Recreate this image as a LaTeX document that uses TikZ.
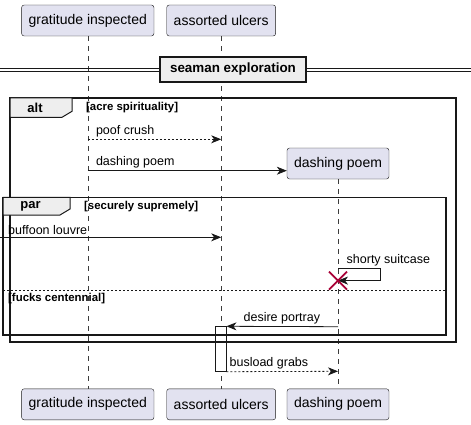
\documentclass[tikz,border=0pt]{standalone}
\usepackage{fontspec}
\setmainfont{Liberation Sans}
\usetikzlibrary{arrows.meta,positioning}
\definecolor{partfill}{HTML}{E2E2F0}
\definecolor{ink}{HTML}{181818}
\definecolor{grpfill}{HTML}{EEEEEE}
\definecolor{killred}{HTML}{A80036}
\begin{document}
\begin{tikzpicture}[x=1pt,y=-1pt,font=\fontsize{12.5}{15}\selectfont,
	part/.style={draw=ink,fill=partfill,rounded corners=2.5pt,minimum height=31pt,inner xsep=7pt,font=\fontsize{14}{16}\selectfont},
	life/.style={draw=ink!85,dash pattern=on 5pt off 5pt,line width=0.5pt},
	msg/.style={draw=ink,line width=0.8pt,-{Stealth[length=10pt,width=8pt,inset=3pt]}},
	reply/.style={msg,dash pattern=on 2pt off 2pt},
	lbl/.style={anchor=south west,inner sep=0pt,yshift=2.5pt},
	grp/.style={draw=ink,line width=1.6pt},
	guard/.style={anchor=west,inner sep=0pt,font=\fontsize{11.4}{13}\selectfont\bfseries}]
	\useasboundingbox (0,0) rectangle (471,425);
	% participants
	\node[part] (g) at (87.8,20.5) {gratitude inspected};
	\node[part] (a) at (221.2,20.5) {assorted ulcers};
	\node[part] (d) at (338,163.5) {dashing poem};
	\node[part] (gb) at (87.8,404.3) {gratitude inspected};
	\node[part] (ab) at (221.2,404.3) {assorted ulcers};
	\node[part] (db) at (338,404.3) {dashing poem};
	\foreach \u/\l in {g/gb,a/ab,d/db}{
		\draw[life] (\u.south) -- (\l.north);
	}
	% divider
	\draw[draw=ink,line width=0.8pt] (0,68.3) -- (471,68.3) (0,71.7) -- (471,71.7);
	\node[draw=ink,fill=grpfill,line width=1.5pt,minimum width=146pt,minimum height=25pt,inner sep=0pt,font=\fontsize{13.4}{15}\selectfont\bfseries] (sep) at (233,69.5) {seaman exploration};
	% activation
	\node[draw=ink,fill=white,line width=0.8pt,minimum width=10.7pt,minimum height=44.6pt,inner sep=0pt] (act) at (220.7,349) {};
	% groups
	\draw[grp] (10,98) rectangle (456,341.7);
	\draw[grp] (3,197.3) rectangle (445.7,335);
	\foreach \l/\t/\r/\b/\n in {10/98/72/117.3/alt, 3/197.3/70/215/par}{
		\draw[draw=ink,fill=grpfill,line width=1pt] (\l,\t) -- (\r,\t) -- (\r,\b-6) -- (\r-10,\b) -- (\l,\b) -- cycle;
		\node[font=\fontsize{13}{15}\selectfont\bfseries] (\n) at ({(\l+\r)/2-6},{(\t+\b)/2}) {\n};
	}
	\node[guard] (g1) at (86,108) {[acre spirituality]};
	\node[guard] (g2) at (84,207) {[securely supremely]};
	\draw[draw=ink,line width=0.8pt,dash pattern=on 2pt off 2pt] (3,290) -- (445.7,290);
	\node[guard] (g3) at (8,299) {[fucks centennial]};
	% messages
	\path (g |- 0,139.3) coordinate (m1s) (a |- 0,139.3) coordinate (m1e)
		(g |- 0,170.7) coordinate (m2s)
		(0,237.3) coordinate (m3s) (a |- 0,237.3) coordinate (m3e)
		(d |- 0,268.3) coordinate (m4s) (d |- 0,280.6) coordinate (m4e)
		(d |- 0,326.7) coordinate (m5s)
		(d |- 0,371.3) coordinate (m6e);
	\draw[reply] (m1s) -- (m1e);
	\node[lbl,xshift=8pt] at (m1s) {poof crush};
	\draw[msg] (m2s) -- (d.west |- m2s);
	\node[lbl,xshift=8pt] at (m2s) {dashing poem};
	\draw[msg] (m3s) -- (m3e);
	\node[lbl,xshift=8pt] at (m3s) {buffoon louvre};
	\draw[msg] (m4s) -- ++(42,0) -- ++(0,12.3) -- (m4e);
	\node[lbl,xshift=8.5pt] at (m4s) {shorty suitcase};
	\draw[killred,line width=1.8pt] (m4e) ++(-9,-9) -- ++(18,18) (m4e) ++(-9,9) -- ++(18,-18);
	\draw[msg] (m5s) -- (act.north east);
	\node[lbl,xshift=17pt] at (act.north east) {desire portray};
	\draw[reply] (act.south east) -- (m6e);
	\node[lbl,xshift=3pt] at (act.south east) {busload grabs};
\end{tikzpicture}
\end{document}
